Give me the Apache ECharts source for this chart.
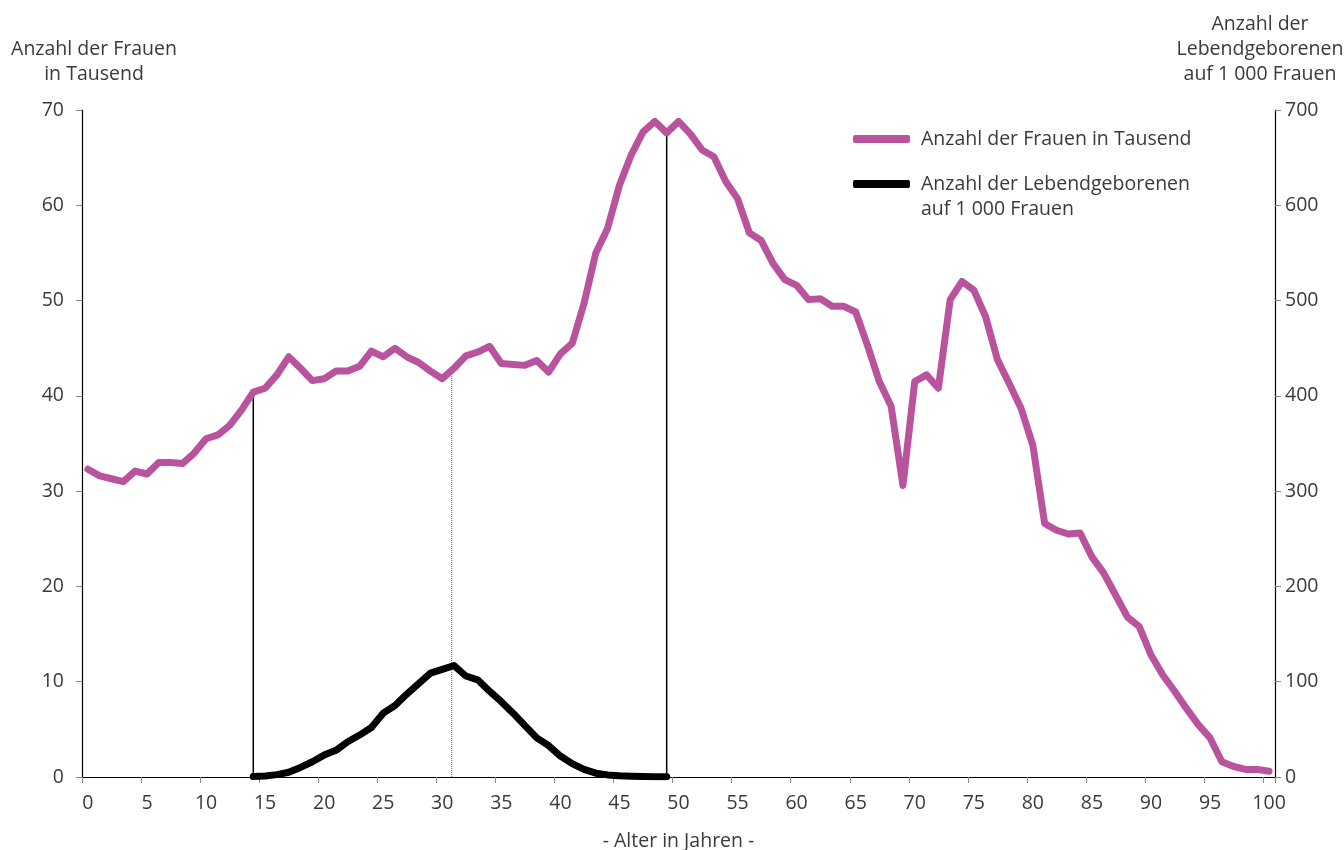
<!DOCTYPE html>
<html>
<head>
<meta charset="utf-8">
<script src="https://cdn.jsdelivr.net/npm/echarts@6/dist/echarts.min.js"></script>
<style>
html,body{margin:0;padding:0;background:#fff;}
#c{width:1344px;height:850px;}
</style>
</head>
<body>
<div id="c"></div>
<script>
// Ages 0..100
const ages = Array.from({length: 101}, (_, i) => String(i));

// Anzahl der Frauen in Tausend, by age 0..100
const women = [
  32.3, 31.6, 31.3, 31.0, 32.1, 31.8, 33.0, 33.0, 32.9, 34.0,
  35.5, 35.9, 36.9, 38.5, 40.4, 40.8, 42.2, 44.1, 42.9, 41.6,
  41.8, 42.6, 42.6, 43.1, 44.7, 44.1, 45.0, 44.1, 43.5, 42.6,
  41.8, 42.9, 44.2, 44.6, 45.2, 43.4, 43.3, 43.2, 43.7, 42.5,
  44.4, 45.5, 49.7, 55.0, 57.6, 62.1, 65.3, 67.7, 68.8, 67.6,
  68.8, 67.5, 65.8, 65.1, 62.5, 60.7, 57.1, 56.3, 53.9, 52.2,
  51.6, 50.1, 50.2, 49.4, 49.4, 48.8, 45.3, 41.5, 38.9, 30.6,
  41.5, 42.2, 40.8, 50.1, 52.0, 51.1, 48.3, 43.8, 41.3, 38.7,
  34.8, 26.6, 25.9, 25.5, 25.6, 23.1, 21.4, 19.1, 16.8, 15.8,
  12.8, 10.7, 9.0, 7.2, 5.5, 4.1, 1.6, 1.1, 0.8, 0.8, 0.6
];

// Lebendgeborene auf 1 000 Frauen, ages 14..49
const birthStartAge = 14;
const births = [
  0.5, 1, 2.5, 5, 10, 16, 23, 28, 37, 44,
  52, 67, 75, 87, 98, 109, 113, 117, 106, 102,
  90, 79, 67, 54, 41, 33, 22, 14, 8, 4,
  2.2, 1.2, 0.8, 0.5, 0.3, 0.2
];

// Vertical reference lines (age, height in thousand women)
const markerAges = [14, 30.8, 49];
const markerTops = [40.4, 42.9, 67.8];
const markerDotted = [false, true, false];

const leftTicks = [0, 10, 20, 30, 40, 50, 60, 70];
const rightTicks = [0, 100, 200, 300, 400, 500, 600, 700];

const nameWomen = 'Anzahl der Frauen in Tausend';
const nameBirths = 'Anzahl der Lebendgeborenen';
const nameBirths2 = 'auf 1 000 Frauen';

const birthData = ages.map((a, i) => {
  const k = i - birthStartAge;
  return (k >= 0 && k < births.length) ? births[k] : null;
});

const FONT = 'Open Sans';
const FS = 19.5;
const TXT = '#3a3a3a';
const PINK = '#b9539e';

const markerSeries = markerAges.map((a, i) => ({
  type: 'line',
  xAxisIndex: 1,
  yAxisIndex: 0,
  silent: true,
  symbol: 'none',
  z: 1,
  lineStyle: markerDotted[i]
    ? {color: '#666', width: 1, type: [1, 1]}
    : {color: '#000', width: 1.5},
  data: [[a, 0], [a, markerTops[i]]]
}));

const chart = echarts.init(document.getElementById('c'), null, {renderer: 'canvas'});
chart.setOption({
  animation: false,
  backgroundColor: '#fff',
  textStyle: {fontFamily: FONT},
  grid: {left: 82, right: 69, top: 110, bottom: 73, containLabel: false, outerBoundsMode: 'none'},
  legend: {
    orient: 'vertical',
    left: 853,
    top: 129,
    padding: 0,
    itemWidth: 57,
    itemHeight: 8,
    itemGap: 25,
    icon: 'roundRect',
    selectedMode: false,
    textStyle: {fontFamily: FONT, fontSize: FS, color: TXT, padding: [0, 0, 0, 6]},
    data: [
      {name: nameWomen, itemStyle: {color: PINK}},
      {name: nameBirths, itemStyle: {color: '#000'}}
    ]
  },
  graphic: [{
    type: 'text',
    left: 921,
    top: 199,
    silent: true,
    style: {text: nameBirths2, fontFamily: FONT, fontSize: FS, fill: TXT}
  }],
  xAxis: [
    {
      type: 'category',
      data: ages,
      boundaryGap: true,
      name: '- Alter in Jahren -',
      nameLocation: 'middle',
      nameGap: 54,
      nameTextStyle: {fontFamily: FONT, fontSize: FS, color: TXT},
      axisLine: {onZero: false, lineStyle: {color: '#000', width: 1.2}},
      axisTick: {show: true, alignWithLabel: false, interval: 4, length: 6, lineStyle: {color: '#888', width: 1}},
      axisLabel: {interval: 4, margin: 16, fontFamily: FONT, fontSize: FS, color: TXT},
      splitLine: {show: false}
    },
    {
      type: 'value',
      min: -0.5,
      max: 100.5,
      show: false
    }
  ],
  yAxis: [
    {
      type: 'value',
      min: leftTicks[0],
      max: leftTicks[leftTicks.length - 1],
      interval: 10,
      name: 'Anzahl der Frauen\nin Tausend',
      nameLocation: 'end',
      nameGap: 23,
      nameTextStyle: {fontFamily: FONT, fontSize: FS, color: TXT, align: 'center', lineHeight: 25, padding: [0, 0, 0, 24]},
      axisLine: {show: true, onZero: false, lineStyle: {color: '#000', width: 1.2}},
      axisTick: {show: true, length: 6, lineStyle: {color: '#888'}},
      axisLabel: {margin: 18, fontFamily: FONT, fontSize: FS, color: TXT},
      splitLine: {show: false}
    },
    {
      type: 'value',
      min: rightTicks[0],
      max: rightTicks[rightTicks.length - 1],
      interval: 100,
      position: 'right',
      name: 'Anzahl der\nLebendgeborenen\nauf 1 000 Frauen',
      nameLocation: 'end',
      nameGap: 23,
      nameTextStyle: {fontFamily: FONT, fontSize: FS, color: TXT, align: 'center', lineHeight: 25, padding: [0, 30, 0, 0]},
      axisLine: {show: true, onZero: false, lineStyle: {color: '#000', width: 1.2}},
      axisTick: {show: true, length: 6, lineStyle: {color: '#888'}},
      axisLabel: {margin: 10, fontFamily: FONT, fontSize: FS, color: TXT},
      splitLine: {show: false}
    }
  ],
  series: [
    ...markerSeries,
    {
      name: nameWomen,
      type: 'line',
      xAxisIndex: 0,
      yAxisIndex: 0,
      data: women,
      symbol: 'none',
      z: 3,
      lineStyle: {color: PINK, width: 7, join: 'round', cap: 'round'},
      itemStyle: {color: PINK}
    },
    {
      name: nameBirths,
      type: 'line',
      xAxisIndex: 0,
      yAxisIndex: 1,
      data: birthData,
      symbol: 'none',
      connectNulls: false,
      z: 4,
      lineStyle: {color: '#000', width: 7, join: 'round', cap: 'round'},
      itemStyle: {color: '#000'}
    }
  ]
});
</script>
</body>
</html>
